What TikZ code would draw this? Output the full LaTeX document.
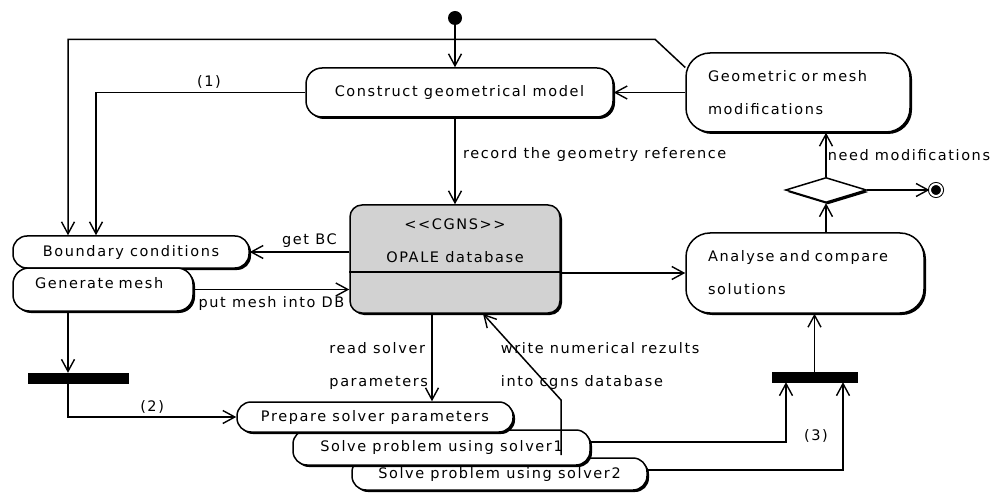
\documentclass[tikz,border=0pt]{standalone}
\usepackage{fontspec}
\setmainfont{DejaVu Sans}[LetterSpace=11]
\usetikzlibrary{arrows.meta,shapes.geometric,shadows,calc}

\begin{document}
\begin{tikzpicture}
[x=1pt,y=-1pt,%
  actiondecorate/.style={draw,line width=1.5pt,fill=white,rounded corners=14pt,inner sep=0pt,%
    drop shadow={shadow xshift=2pt,shadow yshift=-2pt,fill=black,opacity=1}},%
  bardecorate/.style={draw,fill=black,inner sep=0pt,minimum height=10pt},%
  linedecorate/.style={line width=1.5pt,-{Straight Barb[length=12pt,width=13pt,line width=1.4pt]}},%
  font=\fontsize{14.5}{17}\selectfont]
\useasboundingbox (0,0) rectangle (1003,494);
%% nodes or vertices
\node (start) at (455,18) [circle,fill=black,minimum size=14pt,inner sep=0pt] {};
\node (construct) at (459.5,92.5) [actiondecorate,minimum width=307pt,minimum height=49pt,rounded corners=16pt] {Construct geometrical model};
\node (geom) at (798,92.5) [actiondecorate,rounded corners=24pt,minimum width=224pt,minimum height=79pt,text width=180pt,align=left] {Geometric or mesh\\[16pt]modifications};
\node (dec) at (826,190) [actiondecorate,shape=diamond,sharp corners,minimum width=81pt,minimum height=25pt] {};
\node (final) at (936,190) [circle,draw,fill=black,line width=1pt,minimum size=12pt,inner sep=0pt,double,double distance=2pt] {};
\node (analyse) at (805,273) [actiondecorate,rounded corners=24pt,minimum width=238pt,minimum height=80pt,text width=194pt,align=left] {Analyse and compare\\[16pt]solutions};
\node (db) at (455,259) [actiondecorate,fill=gray!35,rounded corners=12pt,minimum width=210pt,minimum height=108pt,align=center] {<{}<CGNS>{}>\\[16pt]OPALE database\\[20pt]\mbox{}};
\draw[line width=1.5pt] ([yshift=-13pt]db.west) -- ([yshift=-13pt]db.east);
\node (bc) at (131,252) [actiondecorate,minimum width=236pt,minimum height=32pt] {Boundary conditions};
\node (gen) at (103,289.5) [actiondecorate,rounded corners=16pt,minimum width=180pt,minimum height=43pt,text width=136pt,align=left,text height=10pt,text depth=13pt] {Generate mesh};
\node (fork) at (78,378) [bardecorate,minimum width=100pt] {};
\node (join) at (814.5,377) [bardecorate,minimum width=85pt] {};
\node (solvetwo) at (499.5,474) [actiondecorate,minimum width=295pt,minimum height=32pt] {Solve problem using solver2};
\node (solveone) at (441.5,447.5) [actiondecorate,minimum width=297pt,minimum height=35pt] {Solve problem using solver1};
\node (prep) at (375,417) [actiondecorate,minimum width=276pt,minimum height=30pt] {Prepare solver parameters};
%% edges or lines
\draw[linedecorate] (start) -- (start |- construct.north);
\draw[linedecorate] (db.north |- construct.south) -- node[pos=0.43,right=4pt] {record the geometry reference} (db.north);
\draw[linedecorate] (geom.west) -- (construct.east);
\draw[linedecorate] ([yshift=25pt]geom.west) -- ++(-30,-28) -| ([xshift=-63pt]bc.north);
\draw[linedecorate] (construct.west) -| node[pos=0.23,above] {(1)} ([xshift=-35pt]bc.north);
\draw[linedecorate] (bc.east -| db.west) -- node[pos=0.4,above] {get BC} (bc.east);
\draw[linedecorate] (gen.east) -- node[below=3pt] {put mesh into DB} (gen.east -| db.west);
\draw[linedecorate] (analyse.west -| db.east) -- (analyse.west);
\draw[linedecorate] (dec.south |- analyse.north) -- (dec.south);
\draw[linedecorate] (dec.north) -- node[right,inner sep=1pt] {need modifications} (dec.north |- geom.south);
\draw[linedecorate] (dec.east) -- (final);
\draw[linedecorate] ([xshift=-35pt]gen.south) -- ([xshift=-35pt]gen.south |- fork.north);
\draw[linedecorate] ([xshift=-10pt]fork.south) |- node[pos=0.75,above] {(2)} (prep.west);
\draw[linedecorate] ([xshift=-23pt]db.south) -- node[pos=0.6,left,align=left] {read solver\\[16pt]parameters} ([xshift=-23pt]db.south |- prep.north);
\draw[linedecorate] ($(solveone.center)+(119.5,7.5)$) -- ++(0,-55) -- node[pos=0.4,anchor=west,xshift=-33pt,align=left] {write numerical rezults\\[16pt]into cgns database} ([xshift=28pt]db.south);
\draw[linedecorate] ([yshift=5.5pt]solveone.east) -| node[pos=0.55,right=14pt] {(3)} ([xshift=-28.5pt]join.south);
\draw[linedecorate] ([yshift=4pt]solvetwo.east) -| ([xshift=28.5pt]join.south);
\draw[linedecorate] (join.north) -- (join.north |- analyse.south);
\end{tikzpicture}
\end{document}
